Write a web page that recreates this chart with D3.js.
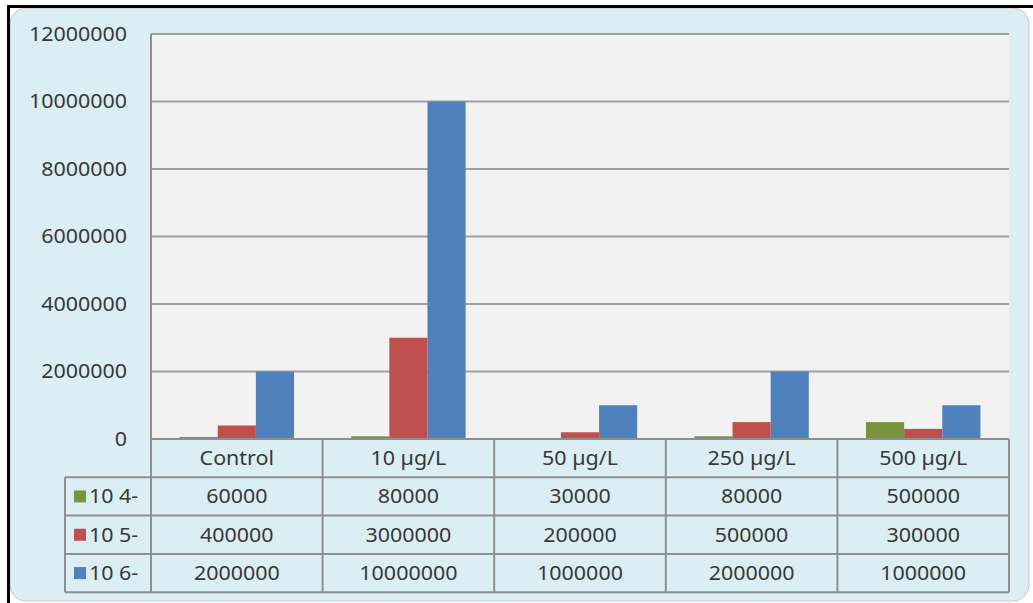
<!DOCTYPE html>
<html>
<head>
<meta charset="utf-8">
<script src="https://cdn.jsdelivr.net/npm/d3@7"></script>
<style>
  body { margin: 0; background: #fff; }
  svg { display: block; }
  text { font-family: "Noto Sans", sans-serif; fill: #383838; }
</style>
</head>
<body>
<svg id="chart" width="1033" height="603"></svg>
<script>
// chart data
const categories = ["Control", "10 µg/L", "50 µg/L", "250 µg/L", "500 µg/L"];
const seriesNames = ["10 4-", "10 5-", "10 6-"];
const seriesColors = ["#77933c", "#c0504d", "#4f81bd"];
const values4 = [60000, 80000, 30000, 80000, 500000];
const values5 = [400000, 3000000, 200000, 500000, 300000];
const values6 = [2000000, 10000000, 1000000, 2000000, 1000000];
const yTicks = [0, 2000000, 4000000, 6000000, 8000000, 10000000, 12000000];

const allValues = [values4, values5, values6];

const svg = d3.select("#chart");

// plot box
const plotLeft = 151, plotRight = 1009, plotTop = 34, plotBottom = 439;
const rowH = 38.3;

// little helper, text a bit stretched like the original
function label(g, x, y, txt, anchor) {
  return g.append("text")
    .attr("transform", `translate(${x},${y}) scale(1.1,1)`)
    .attr("text-anchor", anchor || "middle")
    .attr("dy", "0.35em")
    .style("font-size", "19.5px")
    .text(txt);
}

// frame
svg.append("rect")
  .attr("x", 10).attr("y", 8)
  .attr("width", 1019).attr("height", 593)
  .attr("rx", 16)
  .attr("fill", "#dbeef4")
  .attr("stroke", "#c8c8c8");
svg.append("line").attr("x1", 8).attr("x2", 1033).attr("y1", 6.5).attr("y2", 6.5)
  .attr("stroke", "#000").attr("stroke-width", 3);
svg.append("line").attr("x1", 8.5).attr("x2", 8.5).attr("y1", 5).attr("y2", 603)
  .attr("stroke", "#000").attr("stroke-width", 3);

// scales
const y = d3.scaleLinear().domain([0, 12000000]).range([plotBottom, plotTop]);
const x = d3.scaleBand().domain(categories).range([plotLeft, plotRight]);
const xs = d3.scaleBand().domain(seriesNames).range([0, x.bandwidth()])
  .paddingInner(0).paddingOuter(0.75);

svg.append("rect")
  .attr("x", plotLeft).attr("y", plotTop)
  .attr("width", plotRight - plotLeft).attr("height", plotBottom - plotTop)
  .attr("fill", "#f2f2f2");

// gridlines
svg.append("g").selectAll("line")
  .data(yTicks)
  .join("line")
  .attr("x1", plotLeft).attr("x2", plotRight)
  .attr("y1", d => y(d)).attr("y2", d => y(d))
  .attr("stroke", "#a0a0a0").attr("stroke-width", 2);

// y labels
const yAxis = svg.append("g");
yTicks.forEach(t => label(yAxis, 127, y(t), String(t), "end"));

// bars
const bars = svg.append("g");
seriesNames.forEach((s, i) => {
  bars.selectAll(null)
    .data(categories.map((c, j) => ({ c: c, v: allValues[i][j] })))
    .join("rect")
    .attr("x", d => x(d.c) + xs(s))
    .attr("width", xs.bandwidth())
    .attr("y", d => y(d.v))
    .attr("height", d => y(0) - y(d.v))
    .attr("fill", seriesColors[i]);
});

// data table
const table = svg.append("g");
const lineColor = "#8f8f8f";
const tableBottom = plotBottom + rowH * 4;
const legendLeft = 65;

// horizontal lines
d3.range(5).forEach(r => {
  const yy = plotBottom + rowH * r;
  table.append("line")
    .attr("x1", r === 0 ? plotLeft : legendLeft).attr("x2", plotRight)
    .attr("y1", yy).attr("y2", yy)
    .attr("stroke", lineColor).attr("stroke-width", 2);
});
// vertical lines
categories.concat(["end"]).forEach((c, j) => {
  const xx = c === "end" ? plotRight : x(c);
  table.append("line")
    .attr("x1", xx).attr("x2", xx)
    .attr("y1", j === 0 ? plotTop : plotBottom).attr("y2", tableBottom)
    .attr("stroke", lineColor).attr("stroke-width", 2);
});
table.append("line")
  .attr("x1", legendLeft).attr("x2", legendLeft)
  .attr("y1", plotBottom + rowH).attr("y2", tableBottom)
  .attr("stroke", lineColor).attr("stroke-width", 2);

// header
categories.forEach(c => label(table, x(c) + x.bandwidth() / 2, plotBottom + rowH / 2, c));

// rows
seriesNames.forEach((s, i) => {
  const cy = plotBottom + rowH * (i + 1.5);
  table.append("rect")
    .attr("x", 74).attr("y", cy - 6)
    .attr("width", 12).attr("height", 12)
    .attr("fill", seriesColors[i]);
  label(table, 89, cy, s, "start");
  categories.forEach((c, j) => {
    label(table, x(c) + x.bandwidth() / 2, cy, String(allValues[i][j]));
  });
});
</script>
</body>
</html>
